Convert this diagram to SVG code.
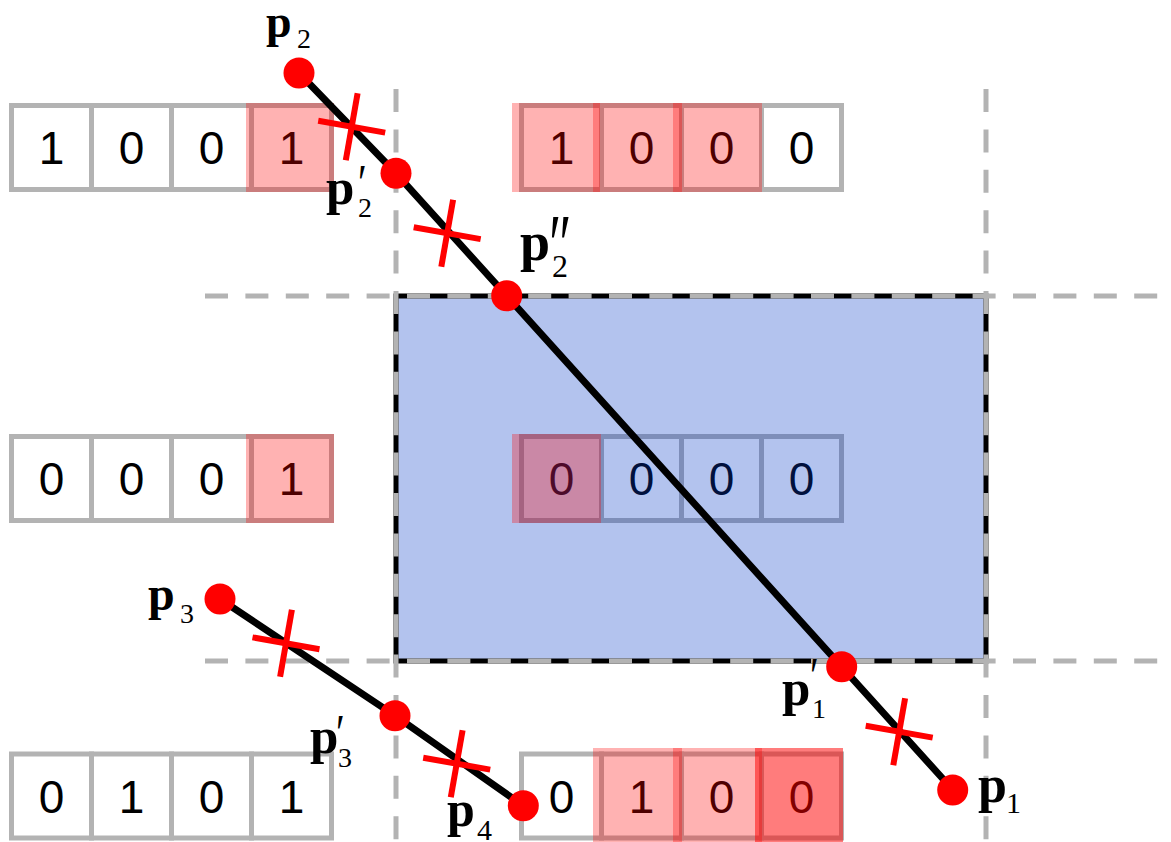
<svg xmlns="http://www.w3.org/2000/svg" xmlns:xlink="http://www.w3.org/1999/xlink" width="1171" height="842" viewBox="0 0 1171 842">
<style>
.cell{fill:#fff;stroke:#b3b3b3;stroke-width:5}
.dig{font-family:"Liberation Sans",Arial,sans-serif;font-size:46px;text-anchor:middle;fill:#000}
.red{fill:#ff0000;fill-opacity:0.3}
.grid{stroke:#b3b3b3;stroke-width:5;stroke-dasharray:23 17.4;fill:none}
.seg{stroke:#000;stroke-width:7;fill:none;stroke-linejoin:round}
.pt{fill:#ff0000}
.lp{font-family:"Liberation Serif","Times New Roman",serif;font-weight:bold;fill:#000}
.ls{font-family:"Liberation Serif","Times New Roman",serif;font-weight:normal;fill:#000}
</style>
<defs>
<g id="cross" stroke="#ff0000" stroke-width="6"><line x1="-34" y1="0" x2="34" y2="0"/><line x1="0" y1="-34" x2="0" y2="34"/></g>
</defs>
<rect width="1171" height="842" fill="#fff"/>

<g id="bits-top-left">
<rect class="cell" x="11.5" y="105.5" width="80" height="84"/><rect class="cell" x="91.5" y="105.5" width="80" height="84"/><rect class="cell" x="171.5" y="105.5" width="80" height="84"/><rect class="cell" x="251.5" y="105.5" width="80" height="84"/>
<text class="dig" x="51.5" y="164">1</text><text class="dig" x="131.5" y="164">0</text><text class="dig" x="211.5" y="164">0</text><text class="dig" x="291.5" y="164">1</text>
</g>
<g id="bits-top-right">
<rect class="cell" x="521.5" y="105.5" width="80" height="84"/><rect class="cell" x="601.5" y="105.5" width="80" height="84"/><rect class="cell" x="681.5" y="105.5" width="80" height="84"/><rect class="cell" x="761.5" y="105.5" width="80" height="84"/>
<text class="dig" x="561.5" y="164">1</text><text class="dig" x="641.5" y="164">0</text><text class="dig" x="721.5" y="164">0</text><text class="dig" x="801.5" y="164">0</text>
</g>
<g id="bits-mid-left">
<rect class="cell" x="11.5" y="436.5" width="80" height="84"/><rect class="cell" x="91.5" y="436.5" width="80" height="84"/><rect class="cell" x="171.5" y="436.5" width="80" height="84"/><rect class="cell" x="251.5" y="436.5" width="80" height="84"/>
<text class="dig" x="51.5" y="495">0</text><text class="dig" x="131.5" y="495">0</text><text class="dig" x="211.5" y="495">0</text><text class="dig" x="291.5" y="495">1</text>
</g>
<g id="bits-mid-center">
<rect class="cell" x="521.5" y="436.5" width="80" height="84"/><rect class="cell" x="601.5" y="436.5" width="80" height="84"/><rect class="cell" x="681.5" y="436.5" width="80" height="84"/><rect class="cell" x="761.5" y="436.5" width="80" height="84"/>
<text class="dig" x="561.5" y="495">0</text><text class="dig" x="641.5" y="495">0</text><text class="dig" x="721.5" y="495">0</text><text class="dig" x="801.5" y="495">0</text>
</g>
<g id="bits-bottom-left">
<rect class="cell" x="11.5" y="754" width="80" height="84"/><rect class="cell" x="91.5" y="754" width="80" height="84"/><rect class="cell" x="171.5" y="754" width="80" height="84"/><rect class="cell" x="251.5" y="754" width="80" height="84"/>
<text class="dig" x="51.5" y="812.5">0</text><text class="dig" x="131.5" y="812.5">1</text><text class="dig" x="211.5" y="812.5">0</text><text class="dig" x="291.5" y="812.5">1</text>
</g>
<g id="bits-bottom-right">
<rect class="cell" x="521.5" y="754" width="80" height="84"/><rect class="cell" x="601.5" y="754" width="80" height="84"/><rect class="cell" x="681.5" y="754" width="80" height="84"/><rect class="cell" x="761.5" y="754" width="80" height="84"/>
<text class="dig" x="561.5" y="812.5">0</text><text class="dig" x="641.5" y="812.5">1</text><text class="dig" x="721.5" y="812.5">0</text><text class="dig" x="801.5" y="812.5">0</text>
</g>

<g id="clip-window">
<rect x="396" y="296" width="590" height="365" fill="#0237c6" fill-opacity="0.3"/>
</g>

<g id="highlights">
<rect class="red" x="246" y="103" width="88" height="89"/>
<rect class="red" x="512" y="103" width="88" height="89"/><rect class="red" x="593" y="103" width="89" height="89"/><rect class="red" x="673" y="103" width="89" height="89"/>
<rect class="red" x="246" y="434" width="88" height="89"/>
<rect class="red" x="512" y="434" width="89" height="89"/>
<rect class="red" x="593" y="748" width="89" height="94"/><rect class="red" x="673" y="748" width="89" height="94"/><rect class="red" x="755" y="748" width="88" height="94"/><rect class="red" x="755" y="748" width="88" height="94"/>
</g>

<g id="clip-window-border">
<rect x="396" y="296" width="590" height="365" fill="none" stroke="#000" stroke-width="5"/>
</g>

<g id="grid">
<line class="grid" x1="396" y1="89" x2="396" y2="842"/>
<line class="grid" x1="986" y1="89" x2="986" y2="842"/>
<line class="grid" x1="205" y1="296" x2="1171" y2="296"/>
<line class="grid" x1="205" y1="661" x2="1171" y2="661"/>
</g>

<g id="connectors">
<path class="seg" d="M299,73 L396,173.3 L953,790"/>
<path class="seg" d="M220,599 L395,715.7 L523.3,805.7"/>
</g>

<g id="crosses">
<use xlink:href="#cross" transform="translate(351.7,126.7) rotate(10)"/>
<use xlink:href="#cross" transform="translate(447.2,233.2) rotate(10)"/>
<use xlink:href="#cross" transform="translate(899.2,731.7) rotate(10)"/>
<use xlink:href="#cross" transform="translate(286,643.3) rotate(10)"/>
<use xlink:href="#cross" transform="translate(456.7,763.7) rotate(10)"/>
</g>

<g id="p2"><circle class="pt" cx="299" cy="73" r="15.5"/>
<text class="lp" x="266" y="37" font-size="46">p<tspan class="ls" x="297" y="48" font-size="28">2</tspan></text></g>
<g id="p2-prime"><circle class="pt" cx="396" cy="173.3" r="15.5"/>
<text class="lp" x="326" y="204" font-size="51">p<tspan class="ls" x="358" y="216.5" font-size="28">2</tspan></text>
<text class="ls" font-size="40" transform="translate(358,201) scale(1,1.3)">′</text></g>
<g id="p2-dprime"><circle class="pt" cx="506.7" cy="295.7" r="15.5"/>
<text class="lp" x="520" y="260" font-size="54">p<tspan class="ls" x="552" y="277" font-size="32">2</tspan></text>
<text class="ls" font-size="54" transform="translate(549,274) scale(1,1.6)">″</text></g>
<g id="p1-prime"><circle class="pt" cx="841.7" cy="666.7" r="15.5"/>
<text class="lp" x="782" y="704.5" font-size="51">p<tspan class="ls" x="812" y="718" font-size="28">1</tspan></text>
<text class="ls" font-size="40" transform="translate(810,694) scale(1,1.3)">′</text></g>
<g id="p1"><circle class="pt" cx="952.7" cy="790" r="15.5"/>
<text class="lp" x="978" y="802" font-size="52">p<tspan class="ls" x="1006" y="813" font-size="30">1</tspan></text></g>
<g id="p3"><circle class="pt" cx="220" cy="599" r="15.5"/>
<text class="lp" x="148" y="610" font-size="48">p<tspan class="ls" x="180" y="623" font-size="28">3</tspan></text></g>
<g id="p3-prime"><circle class="pt" cx="395" cy="715.7" r="15.5"/>
<text class="lp" x="310" y="752.5" font-size="51">p<tspan class="ls" x="338" y="766.5" font-size="28">3</tspan></text>
<text class="ls" font-size="40" transform="translate(336,751) scale(1,1.3)">′</text></g>
<g id="p4"><circle class="pt" cx="523.3" cy="805.7" r="15.5"/>
<text class="lp" x="447" y="826" font-size="50">p<tspan class="ls" x="477" y="840" font-size="30">4</tspan></text></g>
</svg>
